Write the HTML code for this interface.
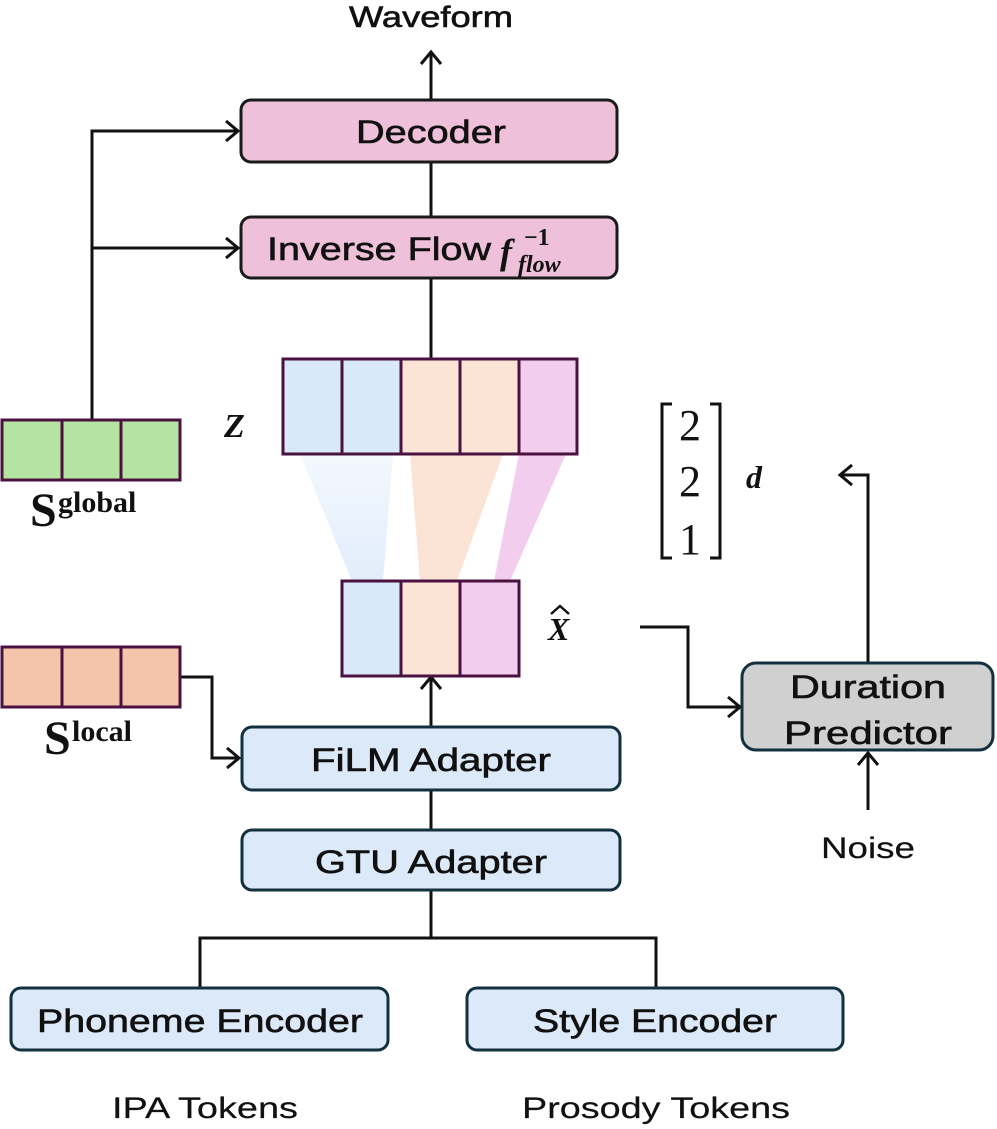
<!DOCTYPE html>
<html><head><meta charset="utf-8"><style>
html,body{margin:0;padding:0;background:#fff}
svg{display:block}
.t{font-family:"Liberation Sans",sans-serif;fill:#111;stroke:#111;stroke-width:0.6}
.m{font-family:"Liberation Serif",serif;font-weight:bold;font-style:italic;fill:#111}
</style></head><body>
<svg width="997" height="1129" viewBox="0 0 997 1129" xmlns="http://www.w3.org/2000/svg">
<defs>
<linearGradient id="bg" x1="0" y1="0" x2="0" y2="1"><stop offset="0" stop-color="#f3f8fe"/><stop offset="1" stop-color="#e2edfb"/></linearGradient>
</defs>
<g fill="none" stroke="#111" stroke-width="3">
<line x1="431" y1="100" x2="431" y2="52"/><polyline points="421,64 431,52 441,64"/>
<line x1="431" y1="162" x2="431" y2="217"/>
<line x1="431" y1="278" x2="431" y2="359"/>
<line x1="431" y1="727" x2="431" y2="677"/><polyline points="421,689 431,677 441,689"/>
<line x1="431" y1="790" x2="431" y2="830"/>
<polyline points="431,890 431,938 200,938 200,988"/>
<polyline points="431,938 656,938 656,988"/>
<polyline points="92,420 92,131 238,131"/><polyline points="226,121 238,131 226,141"/>
<polyline points="92,248 238,248"/><polyline points="226,238 238,248 226,258"/>
<polyline points="180,677 212,677 212,758 239,758"/><polyline points="227,748 239,758 227,768"/>
<polyline points="640,627 688,627 688,707 740,707"/><polyline points="728,697 740,707 728,717"/>
<polyline points="868,663 868,475 840,475"/><polyline points="852,465 840,475 852,485"/>
<line x1="868" y1="810" x2="868" y2="753"/><polyline points="858,765 868,753 878,765"/>
</g>
<polygon points="300,454 393,454 383,581 352,581" fill="url(#bg)"/>
<polygon points="410,454 503,454 457,581 420,581" fill="#fbe3d6"/>
<polygon points="519,454 566,454 510,581 494,581" fill="#f2cdee"/>
<g stroke="#1a1a1a" stroke-width="3">
<rect x="241" y="100" width="376" height="62" rx="10" fill="#efc0d9"/>
<rect x="241" y="217" width="376" height="61" rx="10" fill="#efc0d9"/>
</g>
<g stroke="#13303f" stroke-width="3">
<rect x="242" y="727" width="378" height="63" rx="10" fill="#dce9f8"/>
<rect x="242" y="830" width="378" height="60" rx="10" fill="#dce9f8"/>
<rect x="11" y="988" width="377" height="62" rx="10" fill="#dce9f8"/>
<rect x="467" y="988" width="376" height="62" rx="10" fill="#dce9f8"/>
<rect x="742" y="663" width="251" height="87" rx="14" fill="#d0d0d0"/>
</g>
<g stroke="#4a1240" stroke-width="3">
<rect x="283" y="359" width="59" height="95" fill="#dae9f9"/>
<rect x="342" y="359" width="59" height="95" fill="#dae9f9"/>
<rect x="401" y="359" width="59" height="95" fill="#fbe3d6"/>
<rect x="460" y="359" width="59" height="95" fill="#fbe3d6"/>
<rect x="519" y="359" width="58" height="95" fill="#f2cdee"/>
<rect x="342" y="581" width="59" height="95" fill="#dae9f9"/>
<rect x="401" y="581" width="59" height="95" fill="#fbe3d6"/>
<rect x="460" y="581" width="59" height="95" fill="#f2cdee"/>
<rect x="2" y="420" width="60" height="60" fill="#b5e3a1"/>
<rect x="62" y="420" width="59" height="60" fill="#b5e3a1"/>
<rect x="121" y="420" width="59" height="60" fill="#b5e3a1"/>
<rect x="2" y="647" width="60" height="60" fill="#f5c5ab"/>
<rect x="62" y="647" width="59" height="60" fill="#f5c5ab"/>
<rect x="121" y="647" width="59" height="60" fill="#f5c5ab"/>
</g>
<g class="t" font-size="32" text-anchor="middle">
<text x="431" y="27" font-size="30" textLength="164" lengthAdjust="spacingAndGlyphs">Waveform</text>
<text x="431" y="143" textLength="150" lengthAdjust="spacingAndGlyphs">Decoder</text>
<text x="379" y="260" textLength="224" lengthAdjust="spacingAndGlyphs">Inverse Flow</text>
<text x="431" y="771" textLength="240" lengthAdjust="spacingAndGlyphs">FiLM Adapter</text>
<text x="431" y="873" textLength="232" lengthAdjust="spacingAndGlyphs">GTU Adapter</text>
<text x="200" y="1032" textLength="326" lengthAdjust="spacingAndGlyphs">Phoneme Encoder</text>
<text x="655" y="1032" textLength="244" lengthAdjust="spacingAndGlyphs">Style Encoder</text>
<text x="205" y="1118" font-size="30" textLength="186" lengthAdjust="spacingAndGlyphs" stroke-width="0.2">IPA Tokens</text>
<text x="656" y="1118" font-size="30" textLength="268" lengthAdjust="spacingAndGlyphs" stroke-width="0.2">Prosody Tokens</text>
<text x="868" y="698" textLength="156" lengthAdjust="spacingAndGlyphs">Duration</text>
<text x="868" y="744" textLength="168" lengthAdjust="spacingAndGlyphs">Predictor</text>
<text x="868" y="858" font-size="30" textLength="94" lengthAdjust="spacingAndGlyphs" stroke-width="0.2">Noise</text>
</g>
<g class="m">
<text x="500" y="264" font-size="36">f</text>
<text x="524" y="245" font-size="24" font-style="normal">−1</text>
<text x="518" y="272" font-size="24">flow</text>
<text x="224" y="437" font-size="34">Z</text>
<text x="548" y="640" font-size="32">X</text>
<polyline points="551,614 560,606 569,614" fill="none" stroke="#111" stroke-width="2.5"/>
<text x="746" y="488" font-size="32">d</text>
<text x="30" y="526" font-size="48" font-style="normal">S</text>
<text x="58" y="512" font-size="30" font-style="normal">global</text>
<text x="44" y="754" font-size="48" font-style="normal">S</text>
<text x="72" y="741" font-size="30" font-style="normal">local</text>
</g>
<g font-family="Liberation Serif,serif" font-size="44" fill="#111" text-anchor="middle">
<text x="690" y="440">2</text>
<text x="690" y="496">2</text>
<text x="690" y="554">1</text>
</g>
<g fill="none" stroke="#111" stroke-width="3">
<polyline points="672,404 662,404 662,558 672,558"/>
<polyline points="710,404 720,404 720,558 710,558"/>
</g>
</svg>
</body></html>
